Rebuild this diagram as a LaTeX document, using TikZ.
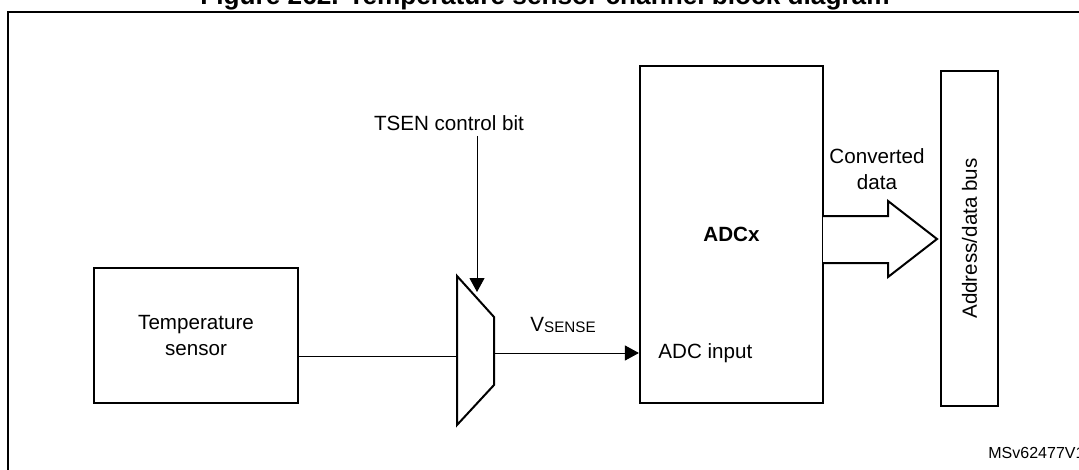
\documentclass[tikz,border=0pt]{standalone}
\usepackage{fontspec}
\setmainfont{Liberation Sans}
\usetikzlibrary{arrows.meta}
\begin{document}
\begin{tikzpicture}[x=0.5pt,y=-0.5pt,
    blk/.style={draw,line width=1.1pt,inner sep=0pt},
    wire/.style={line width=0.5pt},
    sig/.style={wire,-{Triangle[width=7.5pt,length=7pt]}},
    lbl/.style={inner sep=0pt,font=\fontsize{10.3}{13}\selectfont,align=center}]
{
    \def\outerframe{(8,12) rectangle (1090,480)}
    \def\muxshape{(457,276) -- (494,317) -- (494,385) -- (457,425) -- cycle}
    \def\busarrow{(823,216) -- (888,216) -- (888,201) -- (937,239) -- (888,277) -- (888,263) -- (823,263)}

    \useasboundingbox (0,0) rectangle (1079,470);
    \draw[line width=1.1pt] \outerframe;
    \node[font=\bfseries\fontsize{13.1}{15}\selectfont,anchor=base,inner sep=0pt] (title) at (545,5) {Figure 262. Temperature sensor channel block diagram};

    \node[blk,lbl,minimum width=102pt,minimum height=67.5pt] (sensor) at (196,335.5) {Temperature\\sensor};
    \draw[line width=1pt] \muxshape;
    \coordinate (muxin) at (457,356);
    \coordinate (muxout) at (494,353);
    \coordinate (muxsel) at (477,292);
    \node[blk,lbl,font=\bfseries\fontsize{10.3}{13}\selectfont,minimum width=91.5pt,minimum height=168.5pt] (adc) at (731.5,234.5) {ADCx};
    \node[blk,lbl,minimum width=28.5pt,minimum height=167.5pt] (bus) at (969.5,238.5) {\rotatebox{90}{Address/data bus}};

    \node[lbl] (tsen) at (449,123) {TSEN control bit};
    \node[lbl] (vsense) at (563,325) {V\raisebox{-0.8pt}{\fontsize{7.6}{8}\selectfont SENSE}};
    \node[lbl,anchor=west] (adcin) at (658,353) {ADC input};
    \node[lbl] (conv) at (877,169) {Converted\\data};
    \node[font=\fontsize{8}{9}\selectfont,anchor=west,inner sep=0pt] (ref) at (988,453) {MSv62477V1};

    \draw[wire] (muxin -| sensor.east) -- (muxin);
    \draw[sig] (muxout) -- (muxout -| adc.west);
    \draw[sig,shorten <=2.5pt] (tsen.south -| muxsel) -- (muxsel);
    \draw[line width=1pt,fill=white] \busarrow;
}
\end{tikzpicture}
\end{document}
